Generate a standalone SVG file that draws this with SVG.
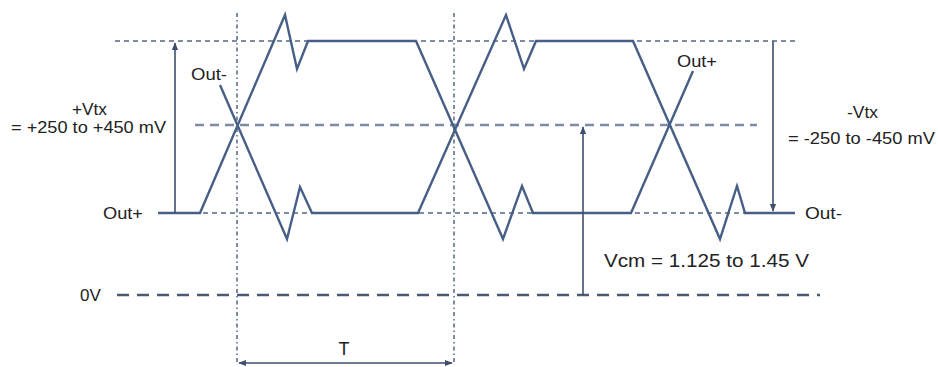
<svg xmlns="http://www.w3.org/2000/svg" width="938" height="367" viewBox="0 0 938 367">
<style>
.bg{fill:#ffffff}
.dot{fill:none;stroke:#7d8ca3;stroke-width:2.2;stroke-dasharray:5 4}
.mid{fill:none;stroke:#7d8ca3;stroke-width:2.5;stroke-dasharray:9 6}
.zero{fill:none;stroke:#4a5a75;stroke-width:2.5;stroke-dasharray:12 8}
.vdot{fill:none;stroke:#6f7f98;stroke-width:1.8;stroke-dasharray:4 3 1.5 3}
.wave{fill:none;stroke:#475f86;stroke-width:2.4;stroke-linejoin:miter}
.arr{fill:none;stroke:#3e4f6c;stroke-width:1.6}
.t{font-family:"Liberation Sans",Arial,sans-serif;fill:#222;font-size:15px}
.o{font-size:16px}
</style>
<defs>
<marker id="ah" viewBox="0 0 10 10" refX="9" refY="5" markerWidth="8" markerHeight="8" markerUnits="userSpaceOnUse" orient="auto-start-reverse">
<path d="M0,1 L10,5 L0,9 z" fill="#3e4f6c"/>
</marker>
</defs>
<rect class="bg" x="0" y="0" width="938" height="367"/>
<g id="gridlines">
<line class="dot" x1="115" y1="41" x2="795" y2="41"/>
<line class="mid" x1="195" y1="125" x2="757" y2="125"/>
<line class="dot" x1="158" y1="213" x2="795" y2="213"/>
<line class="zero" x1="117" y1="295" x2="820" y2="295"/>
<line class="vdot" x1="237" y1="13" x2="237" y2="362"/>
<line class="vdot" x1="454" y1="13" x2="454" y2="362"/>
</g>
<g id="waveform-a">
<polyline class="wave" points="158,213 200,213 285,15 297,69 308,41 416,41 503,239 522,186 533,213 631,213 693,71"/>
</g>
<g id="waveform-b">
<polyline class="wave" points="220,85 287,239 300,187 312,213 418,213 506,15 524,69 536,41 633,41 720,239 737,186 745,213 795,213"/>
</g>
<g id="connectors">
<line class="arr" x1="175" y1="213" x2="175" y2="43" marker-end="url(#ah)"/>
<line class="arr" x1="583" y1="295" x2="583" y2="127" marker-end="url(#ah)"/>
<line class="arr" x1="773" y1="41" x2="773" y2="211" marker-end="url(#ah)"/>
<line class="arr" x1="239" y1="363" x2="452" y2="363" marker-start="url(#ah)" marker-end="url(#ah)"/>
</g>
<g id="labels">
<text class="t o" x="72" y="115" textLength="35" lengthAdjust="spacingAndGlyphs">+Vtx</text>
<text class="t o" x="11" y="133" textLength="155" lengthAdjust="spacingAndGlyphs">= +250 to +450 mV</text>
<text class="t o" x="191" y="80" textLength="36" lengthAdjust="spacingAndGlyphs">Out-</text>
<text class="t o" x="103" y="219" textLength="40" lengthAdjust="spacingAndGlyphs">Out+</text>
<text class="t" x="80" y="301" style="font-size:17px">0V</text>
<text class="t" x="344" y="355" text-anchor="middle" style="font-size:18px">T</text>
<text class="t o" x="677" y="67" textLength="40" lengthAdjust="spacingAndGlyphs">Out+</text>
<text class="t o" x="805" y="219" textLength="37" lengthAdjust="spacingAndGlyphs">Out-</text>
<text class="t o" x="847" y="118" textLength="31" lengthAdjust="spacingAndGlyphs">-Vtx</text>
<text class="t o" x="788" y="144" textLength="147" lengthAdjust="spacingAndGlyphs">= -250 to -450 mV</text>
<text class="t" x="604" y="267" style="font-size:18px" textLength="205" lengthAdjust="spacingAndGlyphs">Vcm = 1.125 to 1.45 V</text>
</g>
</svg>
